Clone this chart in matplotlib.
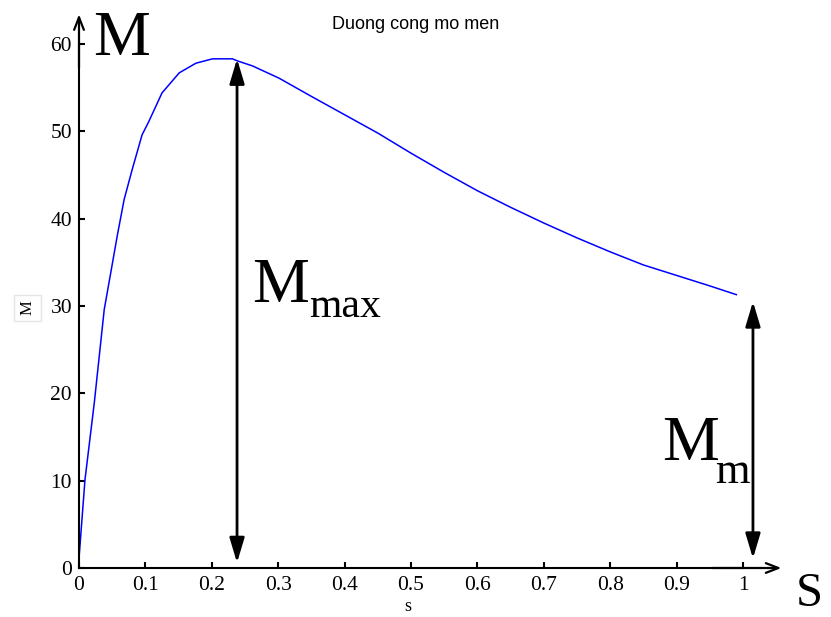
import matplotlib.pyplot as plt

# curve
s_vals = [0.0, 0.009, 0.023, 0.038, 0.045, 0.058, 0.068, 0.080, 0.095, 0.105,
          0.125, 0.151, 0.176, 0.201, 0.231, 0.241, 0.261, 0.301, 0.35, 0.40,
          0.45, 0.50, 0.55, 0.60, 0.65, 0.70, 0.75, 0.80, 0.85, 0.90, 0.95, 0.99]
m_vals = [1.1, 10.1, 18.9, 29.6, 32.6, 38.2, 42.2, 45.6, 49.6, 51.1,
          54.4, 56.7, 57.8, 58.3, 58.3, 58.0, 57.5, 56.1, 54.0, 51.9,
          49.8, 47.5, 45.3, 43.2, 41.3, 39.5, 37.8, 36.2, 34.7, 33.5, 32.3, 31.3]
xticks = [0, 0.1, 0.2, 0.3, 0.4, 0.5, 0.6, 0.7, 0.8, 0.9, 1]
xtick_labels = ['0', '0.1', '0.2', '0.3', '0.4', '0.5', '0.6', '0.7', '0.8', '0.9', '1']
yticks = [0, 10, 20, 30, 40, 50, 60]

s_max, m_max = 0.238, 58.3
s_end, m_end = 1.015, 30.5

W, H = 831, 617
fig = plt.figure(figsize=(W / 100, H / 100), dpi=100)
ax = fig.add_axes([79 / W, 1 - 568 / H, 664 / W, 524 / H])


def px(x, y):
    # figure fraction from pixel position (top-left origin)
    return x / W, 1 - y / H


ax.plot(s_vals, m_vals, color='blue', lw=1.1)
ax.set_xlim(0, 1)
ax.set_ylim(0, 60)
ax.set_xticks(xticks)
ax.set_xticklabels(xtick_labels)
ax.set_yticks(yticks)

for side in ['top', 'right']:
    ax.spines[side].set_visible(False)
for side in ['left', 'bottom']:
    ax.spines[side].set_linewidth(1.5)
ax.tick_params(direction='in', length=4, width=1.5, labelsize=15.5)
ax.tick_params(axis='x', pad=6)
ax.tick_params(axis='y', pad=5)
for lbl in ax.get_xticklabels() + ax.get_yticklabels():
    lbl.set_fontfamily('Liberation Serif')

# axis arrows
ax.annotate('', xy=(1.062, 0), xytext=(0.95, 0), xycoords='axes fraction',
            arrowprops=dict(arrowstyle='->,head_length=0.9,head_width=0.35', lw=1.6, color='black'),
            annotation_clip=False)
ax.annotate('', xy=(0, 1.062), xytext=(0, 0.95), xycoords='axes fraction',
            arrowprops=dict(arrowstyle='->,head_length=0.9,head_width=0.35', lw=1.6, color='black'),
            annotation_clip=False)

# double arrows
ax.annotate('', xy=(s_max, m_max), xytext=(s_max, 0.6),
            arrowprops=dict(arrowstyle='<|-|>,head_length=1.5,head_width=0.45', lw=2, color='black',
                            shrinkA=0, shrinkB=0),
            annotation_clip=False)
ax.annotate('', xy=(s_end, m_end), xytext=(s_end, 1.1),
            arrowprops=dict(arrowstyle='<|-|>,head_length=1.5,head_width=0.45', lw=2, color='black',
                            shrinkA=0, shrinkB=0),
            annotation_clip=False)

serif = 'Liberation Serif'
fig.text(*px(416, 29), 'Duong cong mo men', fontsize=13, family='Liberation Sans', ha='center')
fig.text(*px(408, 611), 's', fontsize=13, family=serif, ha='center')
fig.text(*px(28, 308), 'M', fontsize=12, family=serif, rotation=90, ha='center', va='center',
         bbox=dict(facecolor='white', edgecolor='#e4e4e4', pad=4))

fig.text(*px(93, 55), 'M', fontsize=46, family=serif)
fig.text(*px(796, 606), 'S', fontsize=35, family=serif)
fig.text(*px(252, 302), 'M', fontsize=46, family=serif)
fig.text(*px(309, 317), 'max', fontsize=30, family=serif)
fig.text(*px(662, 460), 'M', fontsize=46, family=serif)
fig.text(*px(715, 483), 'm', fontsize=32, family=serif)

fig.savefig('out.png', dpi=100)
